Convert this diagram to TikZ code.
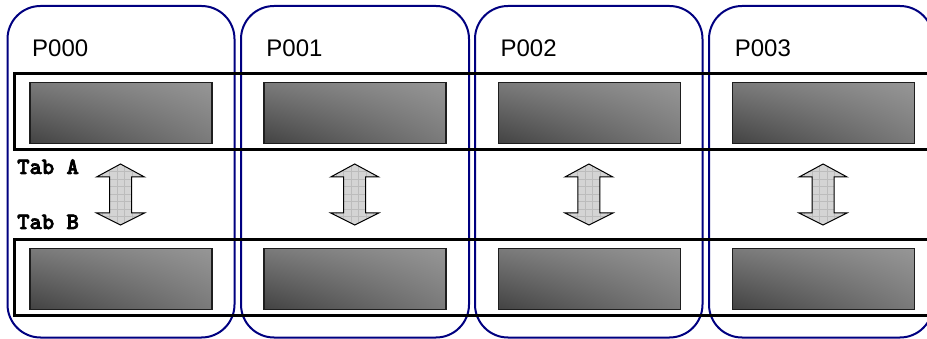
\documentclass[tikz,border=0pt]{standalone}
\usepackage{fontspec}
\setmainfont{Liberation Sans}
\newfontfamily\tabfont{lmmonolt10-bold}[Extension=.otf, FakeBold=3]
\usetikzlibrary{shadings}

\definecolor{colnavy}{HTML}{000080}
\definecolor{boxedge}{HTML}{1E1E1E}
\definecolor{arrowfill}{HTML}{D4D4D4}
\definecolor{arrowgrid}{HTML}{BCBCBC}

\tikzset{
  colbox/.style={draw=colnavy, line width=2pt, rounded corners=33pt,
    inner sep=0pt, outer sep=0pt, anchor=north west, minimum height=331.5pt},
  strip/.style={draw=black, line width=3pt},
  graybox/.style={draw=boxedge, line width=1.5pt, inner sep=0pt,
    anchor=north west, minimum width=182pt, minimum height=61pt,
    upper left={rgb,255:red,122;green,122;blue,122},
    upper right={rgb,255:red,150;green,150;blue,150},
    lower left={rgb,255:red,66;green,66;blue,66},
    lower right={rgb,255:red,122;green,122;blue,122}},
  plabel/.style={anchor=base west, inner sep=0pt,
    font=\fontsize{24}{28}\selectfont},
  tablabel/.style={anchor=base west, inner sep=0pt,
    font=\tabfont\fontsize{23.5}{27}\selectfont},
  arrowline/.style={draw=black, line width=1pt, line join=miter},
}

% outline of the vertical double arrow centred on x = #1
\newcommand{\dblarrowpath}[1]{%
  (#1,164) -- (#1+24,177) -- (#1+11,177) -- (#1+11,213) -- (#1+24,213)
  -- (#1,225) -- (#1-24,213) -- (#1-11,213) -- (#1-11,177) -- (#1-24,177) -- cycle}

\begin{document}
\begin{tikzpicture}[x=1pt, y=-1pt]
  \useasboundingbox (0,0) rectangle (927,339);
  \clip (0,0) rectangle (927,339);

  % processor columns
  \foreach \i/\l/\w in {0/7.5/227, 1/241/228, 2/475/227.5, 3/709/224} {
    \node[colbox, minimum width=\w pt] (col\i) at (\l,6) {};
  }

  % table strips running across all columns
  \draw[strip] (14,74) rectangle (945,150);
  \draw[strip] (14,240) rectangle (945,316);

  % shaded blocks, arrows and column titles
  \foreach \i in {0,1,2,3} {
    \pgfmathsetmacro{\bx}{29+234.3*\i}
    \pgfmathsetmacro{\ax}{120.5+234.2*\i}
    \pgfmathsetmacro{\px}{32+234.2*\i}
    \node[graybox] (ta\i) at (\bx,82) {};
    \node[graybox] (tb\i) at (\bx,248) {};
    \coordinate (ar\i) at (\ax,194.5);
    \begin{scope}
      \clip \dblarrowpath{\ax};
      \fill[arrowfill] (\ax-30,160) rectangle (\ax+30,230);
      \draw[arrowgrid, line width=0.4pt, xstep=7.5pt, ystep=7.5pt, shift={(\ax-3.75,164)}]
        (-30,-5) grid (30,65);
    \end{scope}
    \draw[arrowline] \dblarrowpath{\ax};
    \node[plabel] (p\i) at (\px,57) {P00\i};
  }

  \node[tablabel] (taba) at (17,174) {Tab A};
  \node[tablabel] (tabb) at (17,229) {Tab B};
\end{tikzpicture}
\end{document}
